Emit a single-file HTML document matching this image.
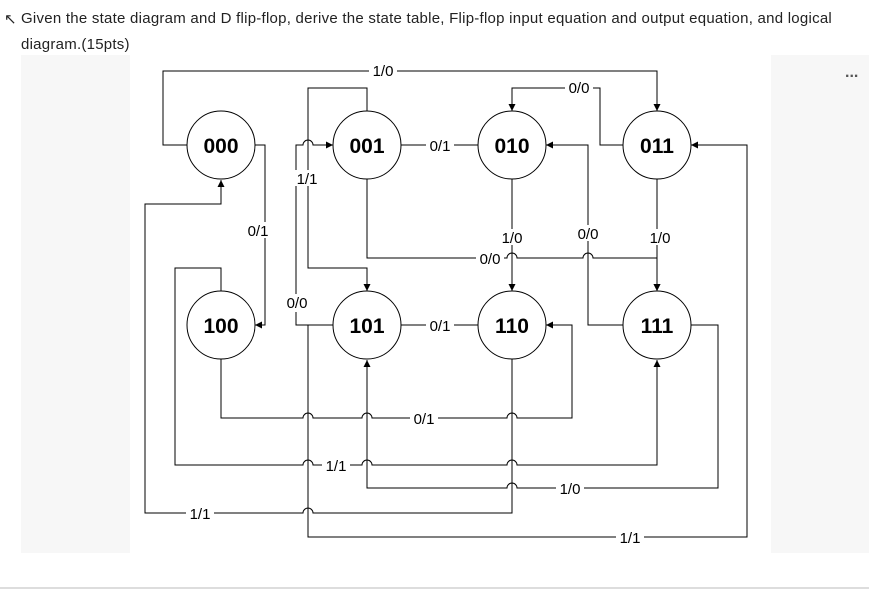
<!DOCTYPE html>
<html><head><meta charset="utf-8"><style>
body{margin:0;width:869px;height:589px;background:#fff;overflow:hidden;position:relative;font-family:"Liberation Sans",sans-serif}
.t{position:absolute;left:21px;font-size:15px;letter-spacing:0.25px;color:#222;}
</style></head><body>
<div class="t" style="top:10px;left:4px">&#8598;</div>
<div class="t" style="top:10px;">Given the state diagram and D flip-flop, derive the state table, Flip-flop input equation and output equation, and logical</div>
<div class="t" style="top:36px;">diagram.(15pts)</div>
<div style="position:absolute;left:21px;top:55px;width:109px;height:498px;background:#f7f7f7"></div>
<div style="position:absolute;left:771px;top:55px;width:98px;height:498px;background:#f7f7f7"></div>
<div style="position:absolute;left:845px;top:64px;font-size:16px;font-weight:bold;color:#555">...</div>
<div style="position:absolute;left:0;top:587px;width:869px;height:2px;background:#ddd"></div>
<svg width="869" height="589" style="position:absolute;left:0;top:0" font-family="Liberation Sans, sans-serif">
<defs><marker id="a" markerWidth="8" markerHeight="8" refX="7" refY="4" orient="auto" markerUnits="userSpaceOnUse"><path d="M0,0.5 L7,4 L0,7.5z" fill="#000"/></marker></defs>
<g fill="none" stroke="#000" stroke-width="1">
<path d="M188,145H163V71H657V111" marker-end="url(#a)"/>
<path d="M254,145H265V325H255" marker-end="url(#a)"/>
<path d="M367,111V88H308V268H367V291" marker-end="url(#a)"/>
<path d="M333,325H296V145H303a5,5 0 0 1 10,0H333" marker-end="url(#a)"/>
<path d="M479,145H334" marker-end="url(#a)"/>
<path d="M624,145H600V88H512V111" marker-end="url(#a)"/>
<path d="M367,179V258H507a5,5 0 0 1 10,0H583a5,5 0 0 1 10,0H657V291" marker-end="url(#a)"/>
<path d="M512,179V291" marker-end="url(#a)"/>
<path d="M657,179V291" marker-end="url(#a)"/>
<path d="M624,325H588V145H546" marker-end="url(#a)"/>
<path d="M479,325H334" marker-end="url(#a)"/>
<path d="M221,291V268H175V465H303a5,5 0 0 1 10,0H362a5,5 0 0 1 10,0H507a5,5 0 0 1 10,0H657V360" marker-end="url(#a)"/>
<path d="M221,359V418H303a5,5 0 0 1 10,0H362a5,5 0 0 1 10,0H507a5,5 0 0 1 10,0H572V325H546" marker-end="url(#a)"/>
<path d="M690,325H718V488H517a5,5 0 0 0 -10,0H367V360" marker-end="url(#a)"/>
<path d="M512,359V513H313a5,5 0 0 0 -10,0H145V204H221V180" marker-end="url(#a)"/>
<path d="M308,325V537H747V145H691" marker-end="url(#a)"/>
</g>
<g fill="#fff" stroke="#000">
<circle cx="221" cy="145" r="34"/><circle cx="367" cy="145" r="34"/><circle cx="512" cy="145" r="34"/><circle cx="657" cy="145" r="34"/>
<circle cx="221" cy="325" r="34"/><circle cx="367" cy="325" r="34"/><circle cx="512" cy="325" r="34"/><circle cx="657" cy="325" r="34"/>
</g>
<g font-size="21" font-weight="bold" text-anchor="middle">
<text x="221" y="153">000</text><text x="367" y="153">001</text><text x="512" y="153">010</text><text x="657" y="153">011</text>
<text x="221" y="333">100</text><text x="367" y="333">101</text><text x="512" y="333">110</text><text x="657" y="333">111</text>
</g>
<g font-size="15" text-anchor="middle">
<g fill="#fff"><rect x="369" y="62" width="28" height="16"/><rect x="565" y="79" width="28" height="16"/><rect x="426" y="137" width="28" height="16"/><rect x="426" y="317" width="28" height="16"/><rect x="476" y="250" width="28" height="16"/><rect x="410" y="410" width="28" height="16"/><rect x="322" y="457" width="28" height="16"/><rect x="556" y="480" width="28" height="16"/><rect x="186" y="505" width="28" height="16"/><rect x="616" y="529" width="28" height="16"/><rect x="244" y="222" width="28" height="16"/><rect x="574" y="225" width="28" height="16"/><rect x="498" y="229" width="28" height="16"/><rect x="646" y="229" width="28" height="16"/><rect x="292" y="170" width="28" height="16"/><rect x="283" y="294" width="28" height="18"/></g>
<text x="383" y="76">1/0</text><text x="579" y="93">0/0</text>
<text x="440" y="151">0/1</text><text x="440" y="331">0/1</text>
<text x="307" y="184">1/1</text><text x="258" y="236">0/1</text>
<text x="512" y="243">1/0</text><text x="588" y="239">0/0</text><text x="660" y="243">1/0</text>
<text x="490" y="264">0/0</text><text x="297" y="308">0/0</text>
<text x="424" y="424">0/1</text><text x="336" y="471">1/1</text>
<text x="570" y="494">1/0</text><text x="200" y="519">1/1</text><text x="630" y="543">1/1</text>
</g>
</svg>
</body></html>
